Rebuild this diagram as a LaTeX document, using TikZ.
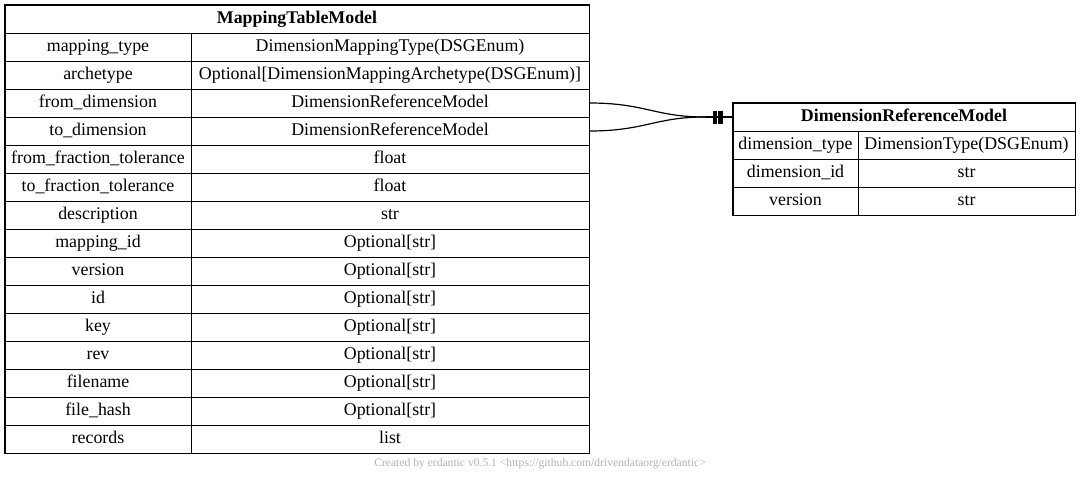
\documentclass[tikz,border=0pt]{standalone}
\usepackage{fontspec}
\setmainfont{Liberation Serif}
\begin{document}
\begin{tikzpicture}[
    x=0.75pt, y=-0.75pt,
    every node/.style={font=\fontsize{13.4}{15}\selectfont},
    cell/.style={draw=black, line width=0.75pt, inner sep=0pt,
                 minimum height=21pt, text height=9.3pt, text depth=2.8pt},
    title/.style={cell, font=\fontsize{13.4}{15}\selectfont\bfseries},
    frame/.style={draw=black, line width=1.1pt},
    link/.style={line width=0.9pt, black},
    tee/.style={line width=3.1pt, black},
    credit/.style={font=\fontsize{8.7}{10}\selectfont, text=black!30},
]
\useasboundingbox (0,0) rectangle (1080,483);

% ── Tabla: MappingTableModel ──
\node[title, minimum width=438pt] (mt-title) at (297,19) {MappingTableModel};
\foreach \k/\t [count=\i] in {
    mapping\_type/DimensionMappingType(DSGEnum),
    archetype/{Optional[DimensionMappingArchetype(DSGEnum)]},
    from\_dimension/DimensionReferenceModel,
    to\_dimension/DimensionReferenceModel,
    from\_fraction\_tolerance/float,
    to\_fraction\_tolerance/float,
    description/str,
    mapping\_id/{Optional[str]},
    version/{Optional[str]},
    id/{Optional[str]},
    key/{Optional[str]},
    rev/{Optional[str]},
    filename/{Optional[str]},
    file\_hash/{Optional[str]},
    records/list}{
  \node[cell, minimum width=139.5pt] (mt-key-\i) at (98,19+28*\i) {\k};
  \node[cell, minimum width=298.5pt] (mt-type-\i) at (390,19+28*\i) {\t};
}
\draw[frame] (mt-title.north west) rectangle (mt-type-15.south east);

% ── Tabla: DimensionReferenceModel ──
\node[title, minimum width=256.5pt] (dr-title) at (904,117) {DimensionReferenceModel};
\foreach \k/\t [count=\i] in {
    dimension\_type/DimensionType(DSGEnum),
    dimension\_id/str,
    version/str}{
  \node[cell, minimum width=93.75pt] (dr-key-\i) at (795.5,117+28*\i) {\k};
  \node[cell, minimum width=162.75pt] (dr-type-\i) at (966.5,117+28*\i) {\t};
}
\draw[frame] (dr-title.north west) rectangle (dr-type-3.south east);

% ── Enlaces (from_dimension, to_dimension → DimensionReferenceModel) ──
\coordinate (merge) at (705,117);
\draw[link] (mt-type-3.east) .. controls (645,103) and (655,117) .. (merge);
\draw[link] (mt-type-4.east) .. controls (645,131) and (655,117) .. (merge);
\draw[link] (merge) -- (dr-title.west);
\draw[tee] ([xshift=-12.9pt]dr-title.west) ++(0,-6.5) -- ++(0,13);
\draw[tee] ([xshift=-9pt]dr-title.west) ++(0,-6.5) -- ++(0,13);

% ── Pie ──
\node[credit] (credit) at (540,464)
    {Created by erdantic v0.5.1 <https://github.com/drivendataorg/erdantic>};
\end{tikzpicture}
\end{document}
